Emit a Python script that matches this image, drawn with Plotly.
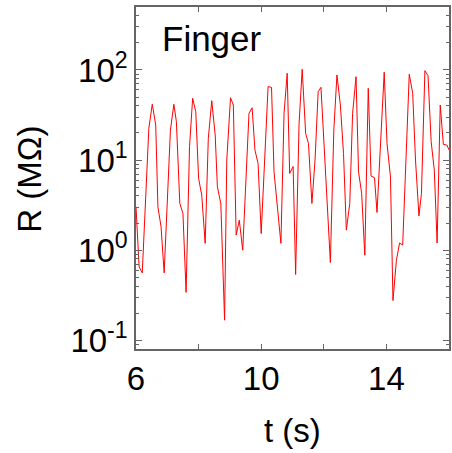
import plotly.graph_objects as go

# time (s) and resistance (MOhm)
t = [6.00, 6.10, 6.20, 6.41, 6.52, 6.63, 6.70, 6.80, 6.90, 7.10,
     7.21, 7.29, 7.40, 7.50, 7.60, 7.71, 7.81, 7.91, 8.00, 8.10,
     8.21, 8.31, 8.42, 8.53, 8.60, 8.71, 8.83, 8.90, 9.02, 9.11,
     9.20, 9.30, 9.41, 9.61, 9.71, 9.80, 9.90, 10.00, 10.22, 10.33,
     10.41, 10.63, 10.73, 10.83, 10.91, 11.02, 11.10, 11.21, 11.31, 11.42,
     11.51, 11.62, 11.72, 11.82, 11.91, 12.21, 12.32, 12.42, 12.53, 12.63,
     12.72, 12.83, 12.92, 13.03, 13.11, 13.21, 13.31, 13.42, 13.51, 13.62,
     13.70, 13.93, 14.02, 14.13, 14.21, 14.32, 14.42, 14.52, 14.73, 14.84,
     14.93, 15.04, 15.12, 15.23, 15.33, 15.43, 15.53, 15.62, 15.72, 15.82,
     15.93, 16.03]
R = [3.03, 0.65, 0.56, 22.5, 41.6, 24.5, 3.03, 1.82, 0.56, 21.5,
     41.6, 26.7, 3.3, 2.56, 0.34, 14.1, 48.5, 34.4, 6.26, 4.09,
     1.19, 17.4, 45.6, 19.0, 5.06, 3.3, 0.167, 10.0, 49.2, 40.8,
     1.47, 2.15, 1.0, 33.0, 38.1, 12.9, 9.2, 1.53, 65.3, 64.2,
     7.4, 1.19, 33.0, 91.9, 7.1, 8.5, 0.537, 25.5, 101.8, 19.8,
     15.3, 3.3, 10.0, 57.4, 64.2, 0.73, 21.5, 88.0, 40.8, 11.8,
     1.67, 3.3, 33.0, 84.3, 7.4, 4.27, 0.88, 62.6, 6.64, 6.36,
     2.62, 94.3, 15.3, 6.5, 0.276, 0.774, 1.2, 1.14, 89.6, 55.0,
     10.0, 2.4, 4.27, 98.3, 86.5, 16.0, 7.74, 1.2, 40.8, 14.9,
     14.7, 12.4]

x_ticks = [6, 10, 14]
x_ticktext = ["6", "10", "14"]
x_minor = [8, 12, 16]
y_ticks = [0.1, 1, 10, 100]
y_ticktext = ["10<sup>-1</sup>", "10<sup>0</sup>", "10<sup>1</sup>", "10<sup>2</sup>"]
y_minor = [m * 10 ** e for e in (-2, -1, 0, 1, 2) for m in range(2, 10)]

FONT = "Liberation Sans, Arial, sans-serif"
AX = "#666666"

fig = go.Figure()
fig.add_trace(go.Scatter(x=t, y=R, mode="lines",
                         line=dict(color="#ff0000", width=1), showlegend=False))

fig.update_layout(
    width=452, height=453,
    margin=dict(l=136, r=1, t=7, b=104),
    paper_bgcolor="white", plot_bgcolor="white",
    font=dict(family=FONT, color="black"),
    xaxis=dict(range=[6, 16], tickmode="array", tickvals=x_ticks, ticktext=x_ticktext,
               ticks="inside", ticklen=5, tickcolor=AX, tickwidth=1,
               minor=dict(tickmode="array", tickvals=x_minor, ticks="inside",
                          ticklen=5, tickcolor=AX, showgrid=False),
               showline=True, linecolor=AX, linewidth=1.5, mirror="ticks",
               showgrid=False, zeroline=False,
               tickfont=dict(size=33, family=FONT, color="black")),
    yaxis=dict(type="log", range=[-1.097, 2.699], tickmode="array",
               tickvals=y_ticks, ticktext=y_ticktext,
               ticks="inside", ticklen=6, tickcolor=AX, tickwidth=1,
               minor=dict(tickmode="array", tickvals=y_minor, ticks="inside",
                          ticklen=3, tickcolor=AX, showgrid=False),
               showline=True, linecolor=AX, linewidth=1.5, mirror="ticks",
               showgrid=False, zeroline=False,
               tickfont=dict(size=33, family=FONT, color="black")),
)

fig.add_annotation(text="Finger", xref="paper", yref="paper",
                   x=(160 - 136) / 315, y=(349 - 38) / 342,
                   xanchor="left", yanchor="middle", showarrow=False,
                   font=dict(size=35, family=FONT, color="black"))
fig.add_annotation(text="t (s)", xref="paper", yref="paper",
                   x=0.5, y=(349 - 430) / 342,
                   xanchor="center", yanchor="middle", showarrow=False,
                   font=dict(size=33, family=FONT, color="black"))
fig.add_annotation(text="R (MΩ)", xref="paper", yref="paper",
                   x=(28 - 136) / 315, y=(349 - 179) / 342,
                   xanchor="center", yanchor="middle", textangle=-90, showarrow=False,
                   font=dict(size=33, family=FONT, color="black"))

fig.write_html("out.html")
